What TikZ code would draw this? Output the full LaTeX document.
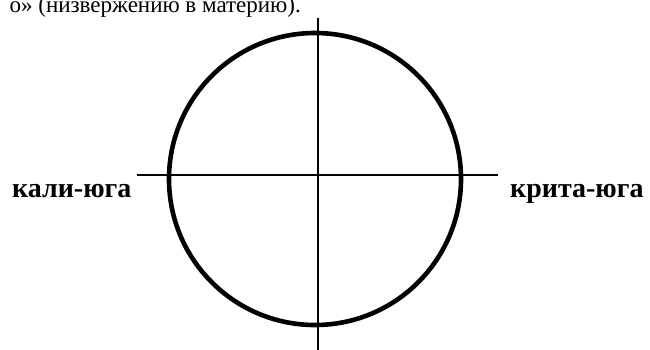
\documentclass[tikz,border=0pt]{standalone}
\usepackage{fontspec}
\setmainfont{Liberation Serif}
\begin{document}
\begin{tikzpicture}[x=1pt,y=-1pt,
  label/.style={font=\fontsize{28}{30}\selectfont\bfseries, inner sep=0pt, anchor=base west},
  axis/.style={line width=1.1pt, black},
  ring/.style={line width=4.6pt, black}]
\useasboundingbox (0,0) rectangle (650,349);
\begin{scope}
\clip (0,0) rectangle (650,349);
\node[font=\fontsize{23}{25}\selectfont, inner sep=0pt, anchor=base east] (top) at (301,12) {о» (низвержению в материю).};
\coordinate (c) at (315,179);
\coordinate (vt) at (318,18);
\coordinate (vb) at (318,352);
\coordinate (hl) at (137,175);
\coordinate (hr) at (498,175);
\draw[axis] (vt) -- (vb);
\draw[axis] (hl) -- (hr);
\draw[ring] (c) circle (146);
\node[label] (kali) at (12,197) {кали-юга};
\node[label] (krita) at (510,197) {крита-юга};
\end{scope}
\end{tikzpicture}
\end{document}
